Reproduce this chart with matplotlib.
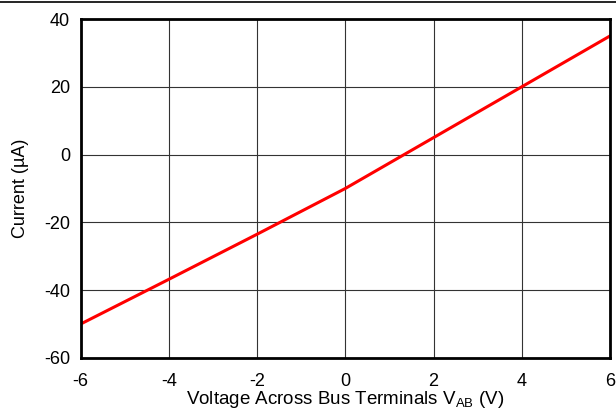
import numpy as np
import matplotlib.pyplot as plt
from matplotlib.lines import Line2D

plt.rcParams['font.family'] = ['Liberation Sans', 'DejaVu Sans']
plt.rcParams['axes.unicode_minus'] = False

# curve
voltage = [-6, -4, -2, 0, 2, 4, 6]
current = [-50, -36.8, -23.5, -10, 5, 20, 35]

xticks = [-6, -4, -2, 0, 2, 4, 6]
yticks = [-60, -40, -20, 0, 20, 40]

fig = plt.figure(figsize=(6.16, 4.09), dpi=100)
ax = fig.add_axes([80.5 / 616, 1 - 358 / 409, (610 - 80.5) / 616, (358 - 19) / 409])

ax.plot(voltage, current, color='#ff0000', linewidth=2.2, zorder=3)

ax.set_xlim(-6, 6)
ax.set_ylim(-60, 40)
ax.set_xticks(xticks)
ax.set_yticks(yticks)
ax.tick_params(length=0, labelsize=13)
ax.tick_params(axis='x', pad=10.5)
ax.tick_params(axis='y', pad=7.5)
ax.grid(True, color='#333333', linewidth=0.8)
for s in ax.spines.values():
    s.set_linewidth(2)
    s.set_zorder(4)

# x label sits right on the bottom edge, so place it by its baseline
fig.text(345 / 616, 1 - 404 / 409, 'Voltage Across Bus Terminals V$_{\\mathregular{AB}}$ (V)',
         fontsize=13.5, ha='center', va='baseline')
ax.set_ylabel('Current (µA)', fontsize=13, labelpad=11)

# rule across the very top of the picture
fig.add_artist(Line2D([0, 1], [1 - 1.5 / 409] * 2, color='black', linewidth=1.2))

fig.savefig('out.png', dpi=100)
